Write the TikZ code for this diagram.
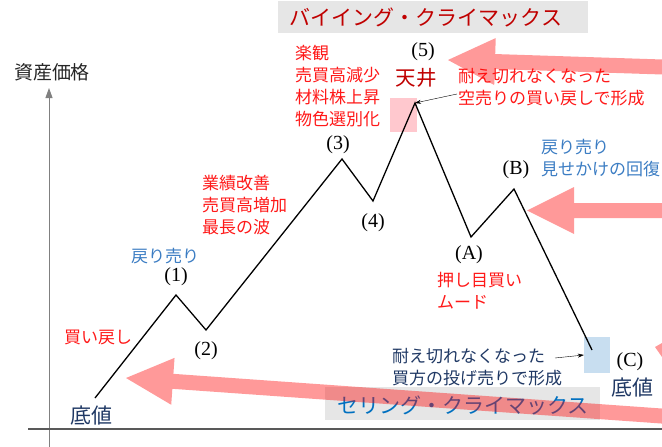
\documentclass[tikz,border=0pt]{standalone}
\usepackage{fontspec}
\newfontfamily\jp{Noto Sans CJK JP}
\newfontfamily\wavefont{Liberation Serif}
\usetikzlibrary{arrows.meta}

\definecolor{txtred}{RGB}{255,25,25}
\definecolor{darkred}{RGB}{192,0,0}
\definecolor{lblblue}{RGB}{60,125,195}
\definecolor{ttlblue}{RGB}{0,112,192}
\definecolor{navy}{RGB}{31,56,100}
\definecolor{boxgray}{RGB}{230,230,230}
\definecolor{peakpink}{RGB}{255,200,206}
\definecolor{floorblue}{RGB}{200,222,240}

\tikzset{
    note/.style={font=\jp\fontsize{17}{22}\selectfont, inner sep=0pt, align=left, anchor=west},
    wavelbl/.style={font=\wavefont\fontsize{20}{20}\selectfont, inner sep=0pt},
    headline/.style={font=\jp\fontsize{21}{21}\selectfont, inner sep=0pt},
    bigarrow/.style={fill=red, fill opacity=0.4},
    thinarrow/.style={-{Stealth[length=6pt,width=4pt]}, thin}
}

% pink arrow: tip, angle, length
\newcommand{\pinkarrow}[3]{%
    \fill[bigarrow, shift={#1}, rotate=#2] (0,0) -- (47,23.5) -- (47,7.5) -- (#3,7.5)
        -- (#3,-7.5) -- (47,-7.5) -- (47,-23.5) -- cycle;}

\begin{document}
\begin{tikzpicture}[x=1pt,y=-1pt]
    \useasboundingbox (0,0) rectangle (662,447);
    \clip (0,0) rectangle (662,447);

    % title boxes
    \fill[boxgray] (278,1) rectangle (588,33);
    \fill[boxgray] (325,387) rectangle (600,420);
    \node[fill=peakpink, minimum width=27pt, minimum height=34pt, inner sep=0] (topbox) at (403.5,115) {};
    \node[fill=floorblue, minimum width=26pt, minimum height=36pt, inner sep=0] (boxC) at (597,355) {};

    % axes
    \coordinate (ytop) at (49,88);
    \coordinate (ybot) at (49,447);
    \coordinate (xleft) at (28,429);
    \coordinate (xright) at (662,429);
    \draw[gray, line width=0.9pt, -{Triangle[length=10pt,width=7pt]}] (ybot) -- (ytop);
    \draw[black!65, line width=1.4pt] (xleft) -- (xright);
    \node[font=\jp\fontsize{19}{19}\selectfont, inner sep=0, text=black!85] (yname) at (52,72) {資産価格};

    % wave
    \coordinate (w0) at (95,398);
    \coordinate (w1) at (176,295);
    \coordinate (w2) at (206,330);
    \coordinate (w3) at (342,159);
    \coordinate (w4) at (373,201);
    \coordinate (w5) at (415,103);
    \coordinate (wA) at (471,237);
    \coordinate (wB) at (514,189);
    \coordinate (wC) at (592,350);
    \draw[line width=1.3pt, line join=miter] (w0) -- (w1) -- (w2) -- (w3) -- (w4) -- (w5) -- (wA) -- (wB) -- (wC);

    \node[wavelbl] (n1) at (176,277) {(1)};
    \node[wavelbl] (n2) at (206,351) {(2)};
    \node[wavelbl] (n3) at (338,145) {(3)};
    \node[wavelbl] (n4) at (373,223) {(4)};
    \node[wavelbl] (n5) at (423,52) {(5)};
    \node[wavelbl] (nA) at (469,255) {(A)};
    \node[wavelbl] (nB) at (516,170) {(B)};
    \node[wavelbl] (nC) at (630,362) {(C)};

    \node[headline, text=darkred, font=\jp\fontsize{20.5}{20.5}\selectfont] (ceiling) at (416,78) {天井};
    \node[headline, text=navy] (floorL) at (91,416) {底値};
    \node[headline, text=navy] (floorR) at (632,388) {底値};

    % notes
    \node[note, text=txtred, anchor=center] (buyback) at (98,337) {買い戻し};
    \node[note, text=lblblue, anchor=center] (sellback) at (165,256) {戻り売り};
    \node[note, text=txtred] (growth) at (202,205) {業績改善\\売買高増加\\最長の波};
    \node[note, text=txtred] (euphoria) at (295,86.5) {楽観\\売買高減少\\材料株上昇\\物色選別化};
    \node[note, text=txtred] (cover) at (458,87.5) {耐え切れなくなった\\空売りの買い戻しで形成};
    \node[note, text=lblblue] (rebound) at (541,158.5) {戻り売り\\見せかけの回復};
    \node[note, text=txtred] (dip) at (437,291) {押し目買い\\ムード};
    \node[note, text=navy] (capit) at (392,367) {耐え切れなくなった\\買方の投げ売りで形成};

    \coordinate (coverend) at (457,94);
    \coordinate (capitend) at (555,358);
    \draw[thinarrow] (coverend) -- (w5);
    \draw[thinarrow] (capitend) -- (boxC.west);

    \node[headline, text=darkred] (buying) at (426,17) {バイイング・クライマックス};
    \node[headline, text=ttlblue] (selling) at (463,405) {セリング・クライマックス};

    % pink arrows
    \pinkarrow{(448,60)}{-1.87}{300}
    \pinkarrow{(527,210.5)}{0}{200}
    \pinkarrow{(126,378)}{-4.06}{600}
    \fill[bigarrow] (655,347) -- (662,343) -- (662,357) -- cycle;
\end{tikzpicture}
\end{document}
